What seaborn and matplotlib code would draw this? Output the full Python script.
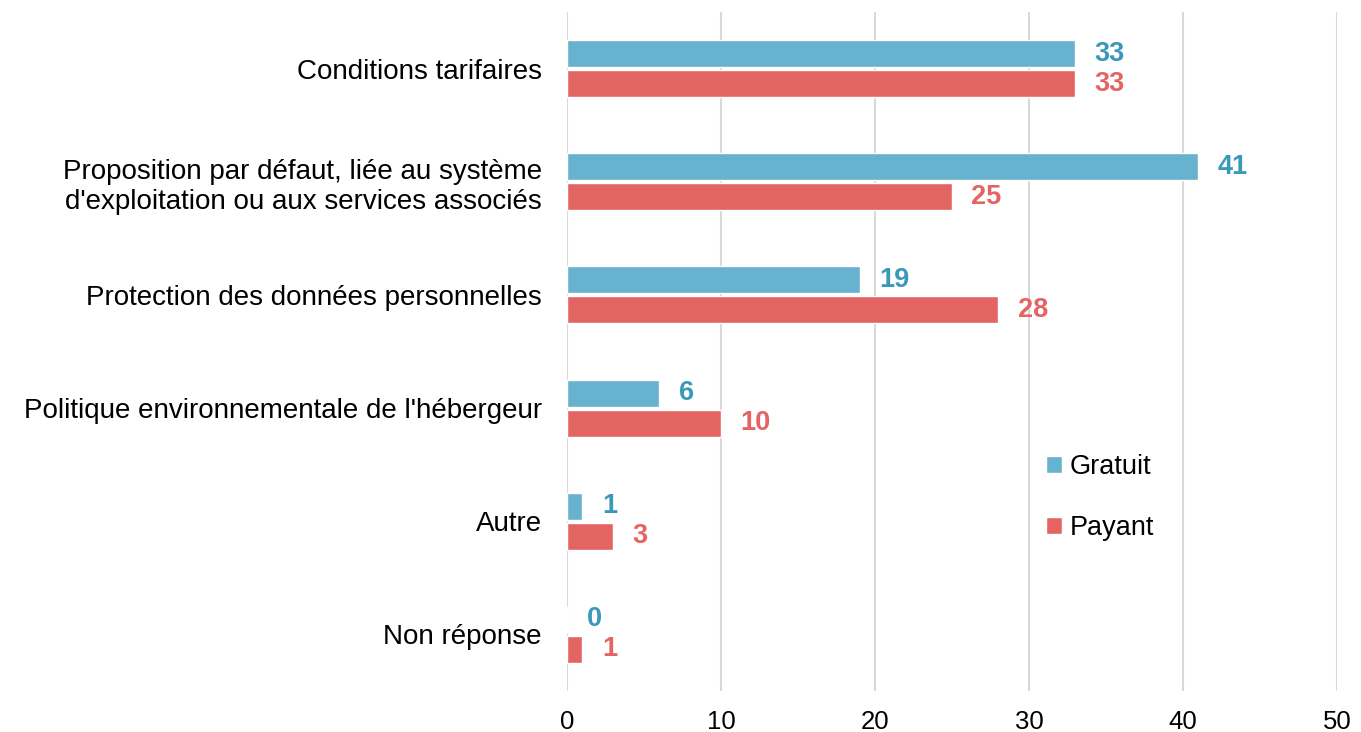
import numpy as np
import pandas as pd
import matplotlib
matplotlib.use('Agg')
import matplotlib.pyplot as plt
import seaborn as sns

categories = ['Conditions tarifaires',
              "Proposition par défaut, liée au système\nd'exploitation ou aux services associés",
              'Protection des données personnelles',
              "Politique environnementale de l'hébergeur",
              'Autre',
              'Non réponse']
gratuit = [33, 41, 19, 6, 1, 0]
payant = [33, 25, 28, 10, 3, 1]
series = ['Gratuit', 'Payant']

bar_colors = ['#67B3CF', '#E46464']
text_colors = ['#3A98BA', '#E46464']

df = pd.DataFrame({
    'cat': categories * 2,
    'val': gratuit + payant,
    'type': ['Gratuit'] * len(categories) + ['Payant'] * len(categories),
})

sns.set_style('white')
plt.rcParams['font.family'] = ['Liberation Sans', 'DejaVu Sans']
plt.rcParams['text.color'] = 'black'

fig = plt.figure(figsize=(13.61, 7.32), dpi=100)
ax = fig.add_axes([0.4166, 0.056, 0.5658, 0.9276])

sns.barplot(data=df, x='val', y='cat', hue='type', orient='h',
            palette=bar_colors, saturation=1, width=0.53, gap=0.1,
            ax=ax, legend=True)

for cont, col in zip(ax.containers, text_colors):
    ax.bar_label(cont, padding=14, color=col, fontsize=19.5, fontweight='bold')

ax.set_xlim(0, 50)
ax.set_ylim(5.5, -0.5)
ax.set_xticks([0, 10, 20, 30, 40, 50])
ax.xaxis.grid(True, color='#D9D9D9', linewidth=1.5)
ax.yaxis.grid(False)
ax.set_axisbelow(True)
for s in ax.spines.values():
    s.set_visible(False)
ax.tick_params(axis='x', length=0, pad=14, labelsize=18.5, labelcolor='black')
ax.tick_params(axis='y', length=0, pad=18, labelsize=20, labelcolor='black')
ax.set_xlabel('')
ax.set_ylabel('')

handles, labels = ax.get_legend_handles_labels()
ax.legend(handles, series, loc='upper left', bbox_to_anchor=(0.59, 0.385),
          frameon=False, fontsize=19.5, handlelength=0.6, handleheight=0.6,
          handletextpad=0.3, labelspacing=1.3)

plt.savefig('out.png', dpi=100)
